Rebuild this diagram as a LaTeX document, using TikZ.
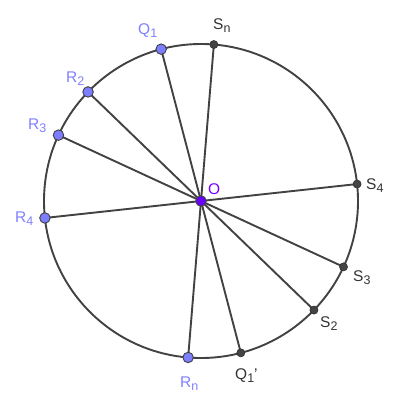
\documentclass[tikz,border=0pt]{standalone}
\usepackage{fontspec}
\setmainfont{Liberation Sans}
\definecolor{lbl}{HTML}{7F7FFF}
\definecolor{ptblue}{HTML}{7D7DFF}
\definecolor{ptO}{HTML}{6A00FF}
\definecolor{lbO}{HTML}{7700FF}
\definecolor{ln}{HTML}{424242}
\definecolor{dk}{HTML}{444444}
\definecolor{lbg}{HTML}{333333}
\newcommand{\lsub}[1]{\raisebox{-0.45ex}{\fontsize{12.5}{12.5}\selectfont #1}}
\tikzset{
  seg/.style={draw=ln, line width=1.9pt},
  bpt/.style={circle, fill=ptblue, draw=black!75, line width=0.9pt, minimum size=10.5pt, inner sep=0pt},
  dpt/.style={circle, fill=dk, draw=black!80, line width=0.7pt, minimum size=8pt, inner sep=0pt},
  opt/.style={circle, fill=ptO, draw=black!75, line width=0.9pt, minimum size=10.5pt, inner sep=0pt},
  blab/.style={text=lbl, font=\fontsize{15.5}{15.5}\selectfont, inner sep=0pt},
  dlab/.style={text=lbg, font=\fontsize{15.5}{15.5}\selectfont, inner sep=0pt},
}
\begin{document}
\begin{tikzpicture}
\useasboundingbox (0,0) rectangle (400pt,-400pt);
\coordinate (O) at (201pt,-201pt);
\coordinate (Q1) at ([shift={(104.7:157pt)}]O);
\coordinate (Q1p) at ([shift={(284.7:157pt)}]O);
\coordinate (R2) at ([shift={(136:157pt)}]O);
\coordinate (S2) at ([shift={(316:157pt)}]O);
\coordinate (R3) at ([shift={(155.2:157pt)}]O);
\coordinate (S3) at ([shift={(335.2:157pt)}]O);
\coordinate (R4) at ([shift={(186.2:157pt)}]O);
\coordinate (S4) at ([shift={(6.2:157pt)}]O);
\coordinate (Sn) at ([shift={(85.3:157pt)}]O);
\coordinate (Rn) at ([shift={(265.3:157pt)}]O);

\draw[seg] (O) circle (157pt);
\draw[seg] (Q1) -- (Q1p);
\draw[seg] (R2) -- (S2);
\draw[seg] (R3) -- (S3);
\draw[seg] (R4) -- (S4);
\draw[seg] (Sn) -- (Rn);

\node[dpt] (pSn) at (Sn) {};
\node[dpt] (pS4) at (S4) {};
\node[dpt] (pS3) at (S3) {};
\node[dpt] (pS2) at (S2) {};
\node[dpt] (pQ1p) at (Q1p) {};
\node[bpt] (pQ1) at (Q1) {};
\node[bpt] (pR2) at (R2) {};
\node[bpt] (pR3) at (R3) {};
\node[bpt] (pR4) at (R4) {};
\node[bpt] (pRn) at (Rn) {};
\node[opt] (pO) at (O) {};

\node[blab, anchor=base west] (lQ1) at (138pt,-34pt) {Q\lsub{1}};
\node[dlab, anchor=base west] (lSn) at (213pt,-29pt) {S\lsub{n}};
\node[blab, anchor=base west] (lR2) at (66pt,-82pt) {R\lsub{2}};
\node[blab, anchor=base west] (lR3) at (28pt,-129pt) {R\lsub{3}};
\node[blab, anchor=base west] (lR4) at (15pt,-222pt) {R\lsub{4}};
\node[text=lbO, font=\fontsize{15.5}{15.5}\selectfont, inner sep=0pt, anchor=base west] (lO) at (208pt,-194pt) {O};
\node[dlab, anchor=base west] (lS4) at (366pt,-189pt) {S\lsub{4}};
\node[dlab, anchor=base west] (lS3) at (353pt,-281pt) {S\lsub{3}};
\node[dlab, anchor=base west] (lS2) at (320pt,-327pt) {S\lsub{2}};
\node[dlab, anchor=base west] (lQ1p) at (235pt,-379pt) {Q\lsub{1}'};
\node[blab, anchor=base west] (lRn) at (180pt,-387pt) {R\lsub{n}};
\end{tikzpicture}
\end{document}
